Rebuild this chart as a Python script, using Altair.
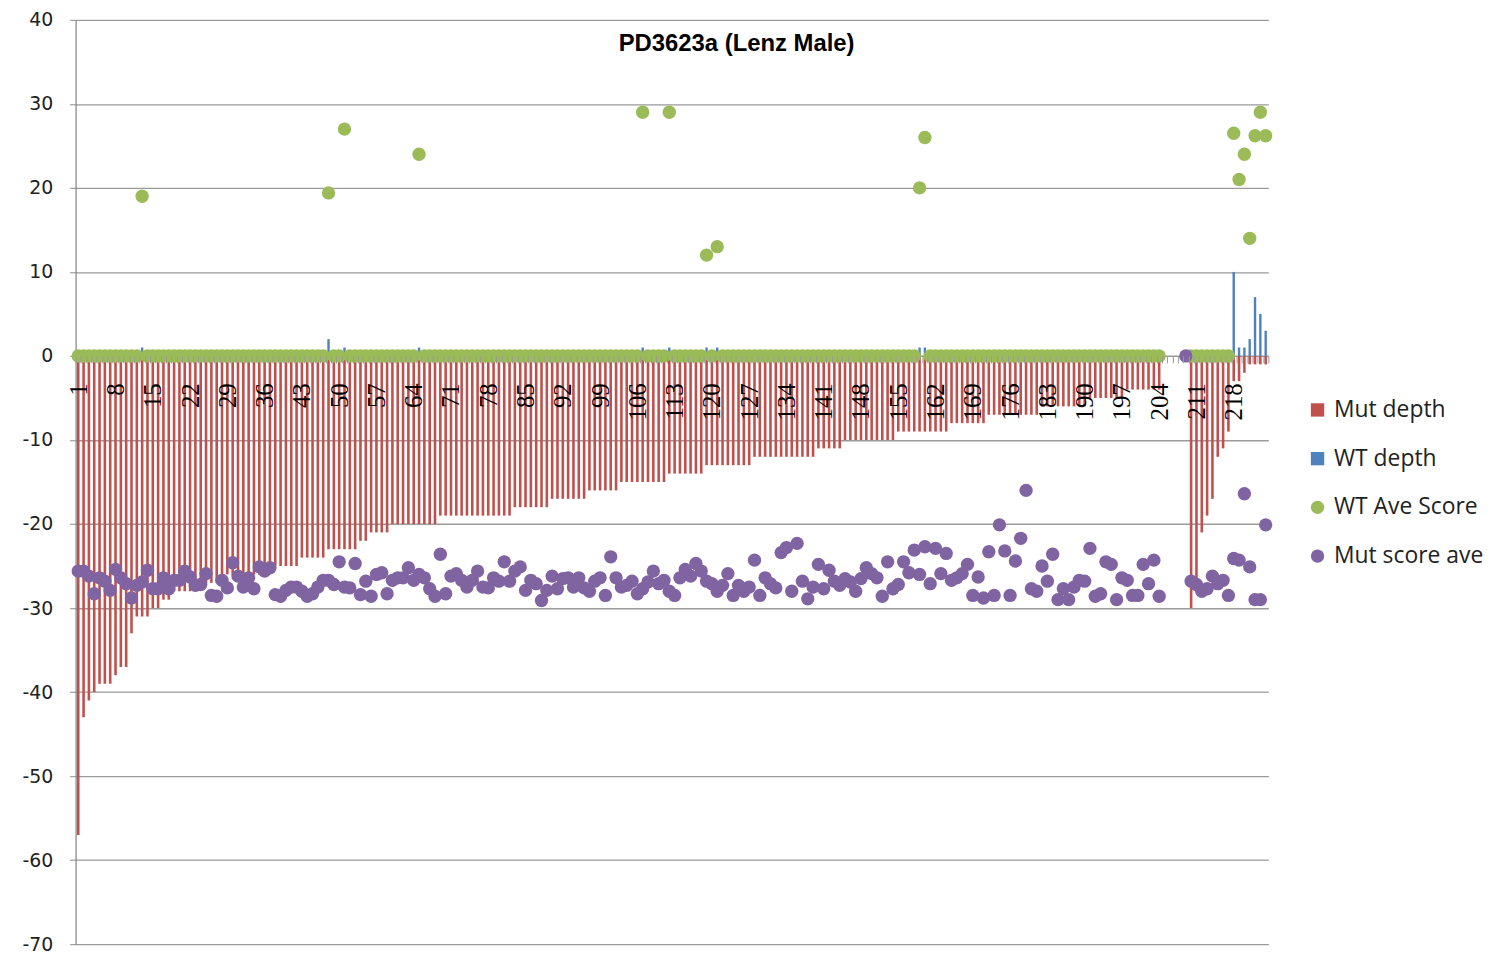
import altair as alt
import pandas as pd

chart_title = "PD3623a (Lenz Male)"
categories = list(range(1, 225))
tick_labels = [1, 8, 15, 22, 29, 36, 43, 50, 57, 64, 71, 78, 85, 92, 99, 106, 113, 120,
               127, 134, 141, 148, 155, 162, 169, 176, 183, 190, 197, 204, 211, 218]
y_ticks = [-70, -60, -50, -40, -30, -20, -10, 0, 10, 20, 30, 40]

mut_depth = [
    -57, -43, -41, -40, -39, -39, -39, -38, -37, -37, -33, -31, -31, -31, -30, -30, -29, -29, -28, -28,
    -28, -28, -28, -27, -27, -27, -27, -26, -26, -26, -26, -26, -26, -26, -26, -25, -25, -25, -25, -25,
    -25, -25, -24, -24, -24, -24, -24, -23, -23, -23, -23, -23, -23, -22, -22, -21, -21, -21, -21, -20,
    -20, -20, -20, -20, -20, -20, -20, -20, -19, -19, -19, -19, -19, -19, -19, -19, -19, -19, -19, -19,
    -19, -19, -18, -18, -18, -18, -18, -18, -18, -17, -17, -17, -17, -17, -17, -17, -16, -16, -16, -16,
    -16, -16, -15, -15, -15, -15, -15, -15, -15, -15, -15, -14, -14, -14, -14, -14, -14, -14, -13, -13,
    -13, -13, -13, -13, -13, -13, -13, -12, -12, -12, -12, -12, -12, -12, -12, -12, -12, -12, -12, -11,
    -11, -11, -11, -11, -10, -10, -10, -10, -10, -10, -10, -10, -10, -10, -9, -9, -9, -9, -9, -9,
    -9, -9, -9, -9, -8, -8, -8, -8, -8, -8, -8, -7, -7, -7, -7, -7, -7, -7, -7, -7,
    -7, -6, -6, -6, -6, -6, -6, -6, -6, -6, -5, -5, -5, -5, -5, -5, -5, -4, -4, -4,
    -4, -4, -4, -4, None, None, None, None, None, -30, -27.5, -21, -19, -17, -12, -11, -9, -3, -3, -2,
    -1, -1, -1, -1,
]

wt_depth = [
    0, 0, 0, 0, 0, 0, 0, 0, 0, 0, 0, 0, 1, 0, 0, 0, 0, 0, 0, 0,
    0, 0, 0, 0, 0, 0, 0, 0, 0, 0, 0, 0, 0, 0, 0, 0, 0, 0, 0, 0,
    0, 0, 0, 0, 0, 0, 0, 2, 0, 0, 1, 0, 0, 0, 0, 0, 0, 0, 0, 0,
    0, 0, 0, 0, 1, 0, 0, 0, 0, 0, 0, 0, 0, 0, 0, 0, 0, 0, 0, 0,
    0, 0, 0, 0, 0, 0, 0, 0, 0, 0, 0, 0, 0, 0, 0, 0, 0, 0, 0, 0,
    0, 0, 0, 0, 0, 0, 1, 0, 0, 0, 0, 1, 0, 0, 0, 0, 0, 0, 1, 0,
    1, 0, 0, 0, 0, 0, 0, 0, 0, 0, 0, 0, 0, 0, 0, 0, 0, 0, 0, 0,
    0, 0, 0, 0, 0, 0, 0, 0, 0, 0, 0, 0, 0, 0, 0, 0, 0, 0, 1, 1,
    0, 0, 0, 0, 0, 0, 0, 0, 0, 0, 0, 0, 0, 0, 0, 0, 0, 0, 0, 0,
    0, 0, 0, 0, 0, 0, 0, 0, 0, 0, 0, 0, 0, 0, 0, 0, 0, 0, 0, 0,
    0, 0, 0, 0, None, None, None, None, None, 0, 0, 0, 0, 0, 0, 0, 0, 10, 1, 1,
    2, 7, 5, 3,
]

wt_ave_score = [
    0, 0, 0, 0, 0, 0, 0, 0, 0, 0, 0, 0, 19, 0, 0, 0, 0, 0, 0, 0,
    0, 0, 0, 0, 0, 0, 0, 0, 0, 0, 0, 0, 0, 0, 0, 0, 0, 0, 0, 0,
    0, 0, 0, 0, 0, 0, 0, 19.4, 0, 0, 27, 0, 0, 0, 0, 0, 0, 0, 0, 0,
    0, 0, 0, 0, 24, 0, 0, 0, 0, 0, 0, 0, 0, 0, 0, 0, 0, 0, 0, 0,
    0, 0, 0, 0, 0, 0, 0, 0, 0, 0, 0, 0, 0, 0, 0, 0, 0, 0, 0, 0,
    0, 0, 0, 0, 0, 0, 29, 0, 0, 0, 0, 29, 0, 0, 0, 0, 0, 0, 12, 0,
    13, 0, 0, 0, 0, 0, 0, 0, 0, 0, 0, 0, 0, 0, 0, 0, 0, 0, 0, 0,
    0, 0, 0, 0, 0, 0, 0, 0, 0, 0, 0, 0, 0, 0, 0, 0, 0, 0, 20, 26,
    0, 0, 0, 0, 0, 0, 0, 0, 0, 0, 0, 0, 0, 0, 0, 0, 0, 0, 0, 0,
    0, 0, 0, 0, 0, 0, 0, 0, 0, 0, 0, 0, 0, 0, 0, 0, 0, 0, 0, 0,
    0, 0, 0, 0, None, None, None, None, None, 0, 0, 0, 0, 0, 0, 0, 0, 26.5, 21, 24,
    14, 26.2, 29, 26.2,
]

mut_score_ave = [
    -25.6, -25.6, -26.2, -28.3, -26.4, -26.8, -27.9, -25.4, -26.4, -27.1,
    -28.8, -27.3, -26.9, -25.5, -27.7, -27.7, -26.4, -27.7, -26.7, -26.7,
    -25.6, -26.3, -27.3, -27.2, -25.9, -28.5, -28.6, -26.7, -27.6, -24.6,
    -26.2, -27.5, -26.4, -27.7, -25.1, -25.6, -25.2, -28.4, -28.6, -27.9,
    -27.5, -27.5, -28.0, -28.6, -28.3, -27.5, -26.7, -26.7, -27.2, -24.5,
    -27.5, -27.6, -24.7, -28.4, -26.8, -28.6, -26.0, -25.8, -28.3, -26.7,
    -26.4, -26.4, -25.2, -26.7, -26.0, -26.4, -27.7, -28.6, -23.6, -28.3,
    -26.2, -25.9, -26.7, -27.5, -26.7, -25.6, -27.5, -27.6, -26.4, -26.8,
    -24.5, -26.8, -25.6, -25.1, -27.9, -26.7, -27.1, -29.1, -27.9, -26.2,
    -27.7, -26.5, -26.4, -27.5, -26.4, -27.6, -28.0, -26.8, -26.4, -28.5,
    -23.9, -26.4, -27.5, -27.3, -26.8, -28.3, -27.7, -26.9, -25.6, -27.1,
    -26.7, -28.0, -28.5, -26.4, -25.4, -26.2, -24.7, -25.6, -26.8, -27.1,
    -28.0, -27.3, -25.9, -28.5, -27.3, -28.0, -27.5, -24.3, -28.5, -26.4,
    -27.1, -27.6, -23.4, -22.8, -28.0, -22.3, -26.8, -28.9, -27.5, -24.8,
    -27.7, -25.5, -26.8, -27.3, -26.5, -26.9, -28.0, -26.5, -25.2, -25.9,
    -26.4, -28.6, -24.5, -27.7, -27.2, -24.5, -25.8, -23.1, -26.0, -22.7,
    -27.1, -22.9, -25.9, -23.5, -26.7, -26.4, -25.9, -24.8, -28.5, -26.3,
    -28.8, -23.3, -28.5, -20.1, -23.2, -28.5, -24.4, -21.7, -16.0, -27.7,
    -28.0, -25.0, -26.8, -23.6, -29.0, -27.7, -29.0, -27.5, -26.7, -26.8,
    -22.9, -28.6, -28.3, -24.5, -24.8, -29.0, -26.4, -26.7, -28.5, -28.5,
    -24.8, -27.1, -24.3, -28.6, None, None, None, None, 0, -26.8,
    -27.2, -28.0, -27.7, -26.2, -27.1, -26.7, -28.5, -24.1, -24.3, -16.4,
    -25.1, -29.0, -29.0, -20.1,
]

for arr in (mut_depth, wt_depth, wt_ave_score, mut_score_ave):
    assert len(arr) == len(categories), len(arr)

series_names = ["Mut depth", "WT depth", "WT Ave Score", "Mut score ave"]
series_colors = ["#C0504D", "#4F81BD", "#9BBB59", "#8064A2"]
series_shapes = ["square", "square", "circle", "circle"]
series_sizes = [180, 180, 42, 68]


def frame(values, name):
    df = pd.DataFrame({"cat": categories, "value": values, "series": name})
    return df.dropna(subset=["value"])


W, H = 1200, 930
Y_MIN, Y_MAX = -70, 40
zero_from_bottom = H * (0 - Y_MIN) / (Y_MAX - Y_MIN)

label_expr = "indexof(" + str(tick_labels) + ", datum.value) >= 0 ? datum.label : ''"

x_enc = alt.X(
    "cat:O",
    scale=alt.Scale(domain=categories, paddingInner=0, paddingOuter=0),
    axis=alt.Axis(
        labelExpr=label_expr, labelAngle=270, labelAlign="right", labelBaseline="middle",
        labelFont="Liberation Serif", labelFontSize=25, labelColor="#000000",
        labelPadding=20, labelOverlap=False, tickSize=7, tickColor="#9a9a9a",
        tickBand="extent", domain=False, offset=-zero_from_bottom, zindex=1, grid=False,
    ),
    title=None,
)
y_enc = alt.Y(
    "value:Q",
    scale=alt.Scale(domain=[Y_MIN, Y_MAX], nice=False, zero=False),
    axis=alt.Axis(
        values=y_ticks, tickSize=6, tickColor="#8a8a8a", labelPadding=17,
        labelExpr="datum.value < 0 ? '-' + abs(datum.value) : '' + datum.value",
        labelFont="DejaVu Sans", labelFontSize=19, labelColor="#222222",
        gridColor="#9a9a9a", gridWidth=1.3, domainColor="#8a8a8a", domainWidth=1.3,
        minExtent=61, maxExtent=61,
    ),
    title=None,
)

legend = alt.Legend(
    title=None, orient="none", legendX=1238, legendY=381, labelFont="Open Sans",
    labelFontSize=23, labelColor="#222222", rowPadding=25, labelOffset=5,
    symbolStrokeWidth=0, padding=0,
)
color_enc = alt.Color("series:N", scale=alt.Scale(domain=series_names, range=series_colors), legend=legend)
shape_enc = alt.Shape("series:N", scale=alt.Scale(domain=series_names, range=series_shapes), legend=legend)
size_enc = alt.Size("series:N", scale=alt.Scale(domain=series_names, range=series_sizes), legend=legend)

mut_bars = alt.Chart(frame(mut_depth, "Mut depth")).mark_bar(size=2.6).encode(
    x=x_enc, y=y_enc, color=color_enc)
wt_bars = alt.Chart(frame(wt_depth, "WT depth")).mark_bar(size=2.4).encode(
    x=x_enc, y=y_enc, color=color_enc)
wt_points = alt.Chart(frame(wt_ave_score, "WT Ave Score")).mark_point(filled=True, opacity=1).encode(
    x=x_enc, y=y_enc, color=color_enc, shape=shape_enc, size=size_enc)
mut_points = alt.Chart(frame(mut_score_ave, "Mut score ave")).mark_point(filled=True, opacity=1).encode(
    x=x_enc, y=y_enc, color=color_enc, shape=shape_enc, size=size_enc)

title_layer = alt.Chart(pd.DataFrame({"t": [chart_title]})).mark_text(
    font="Liberation Sans", fontSize=24, fontWeight="bold", color="#000000",
    align="center", baseline="middle",
).encode(text="t:N", x=alt.value(665), y=alt.value(24))

chart = alt.layer(mut_bars, wt_bars, wt_points, mut_points, title_layer).properties(
    width=W, height=H, padding={"left": 7, "top": 0, "right": 5, "bottom": 0},
    background="white",
).configure_view(strokeWidth=0)

chart.save("out.html", embed_options={"renderer": "svg", "actions": False})
